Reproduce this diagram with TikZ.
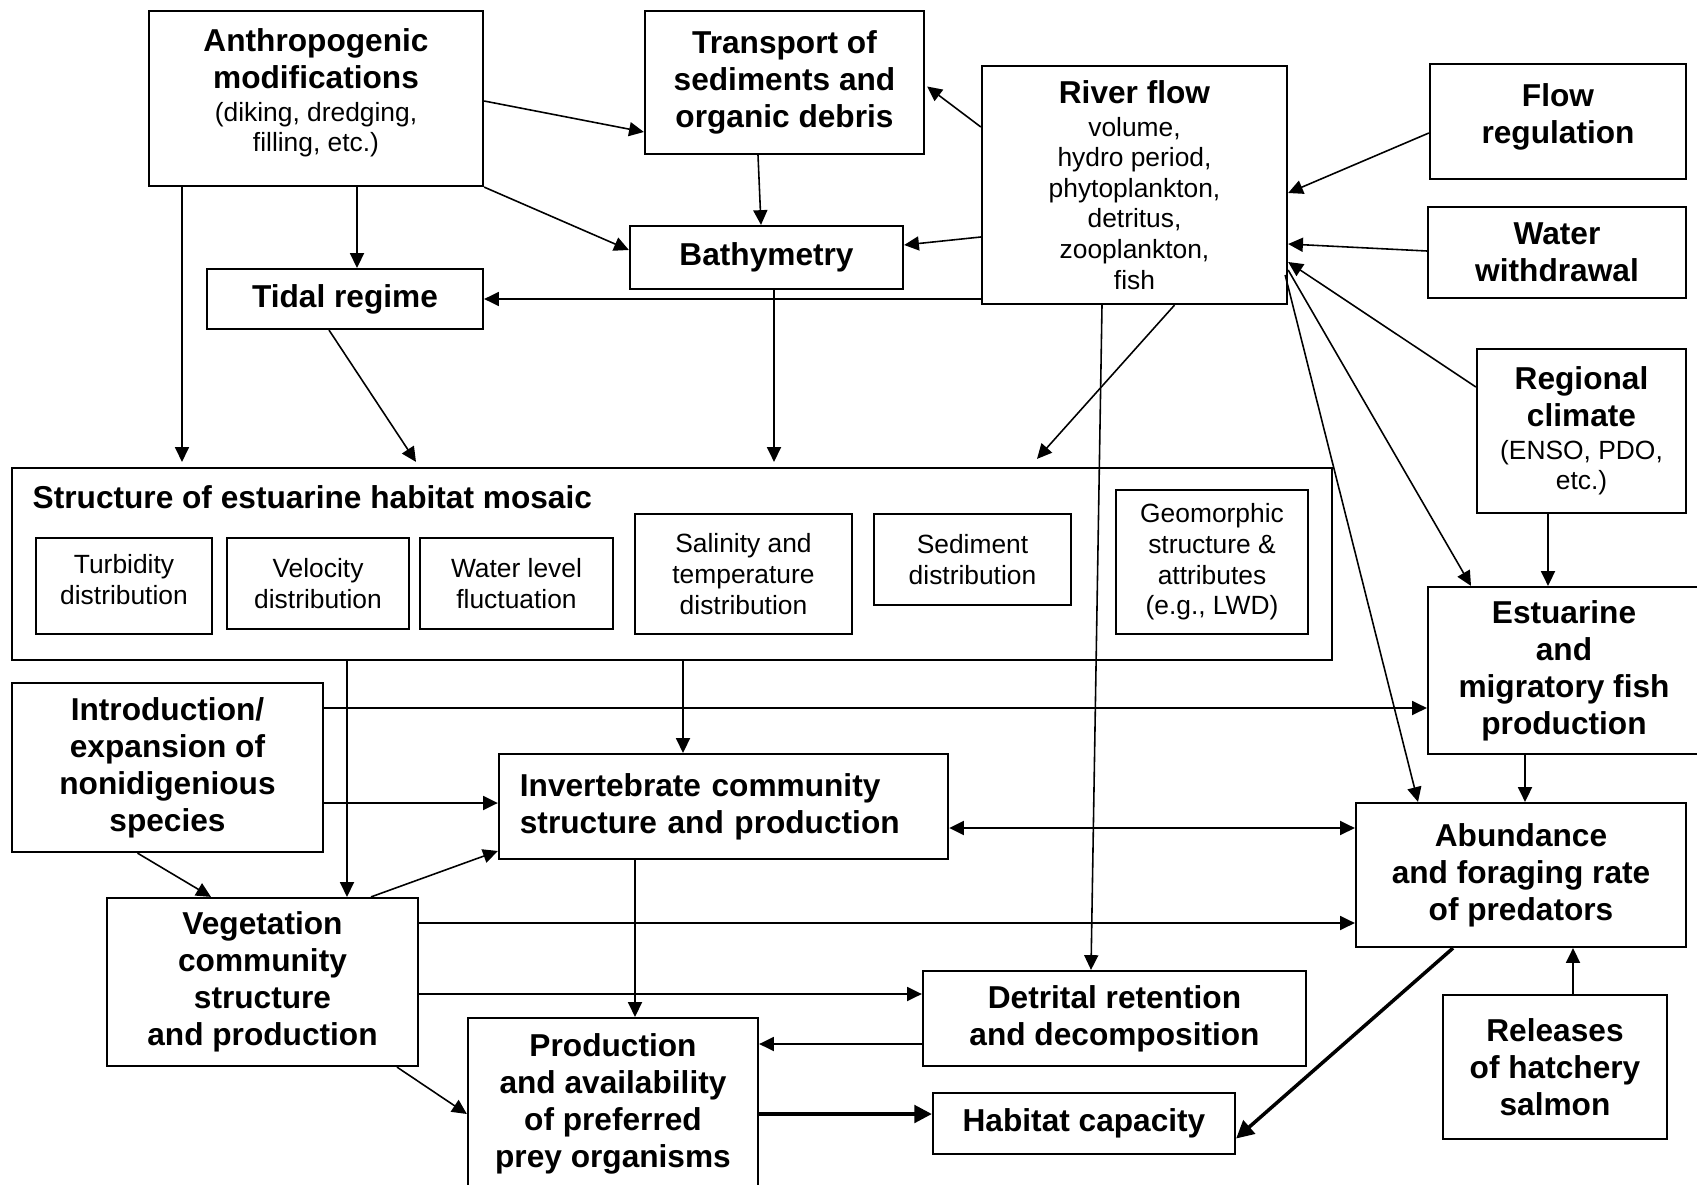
\documentclass[tikz,border=0pt]{standalone}
\usepackage{fontspec}
\setmainfont{Liberation Sans}
\usetikzlibrary{arrows.meta, calc}
\definecolor{LineBlack}{HTML}{000000}
\newcommand{\boldlabel}{\fontsize{9}{10.5}\selectfont\bfseries}
\newcommand{\plainlabel}{\fontsize{7.5}{8.7}\selectfont\mdseries}
\tikzset{
    box/.style={
        draw=LineBlack,
        line width=0.6pt,
        text=LineBlack,
        font=\boldlabel,
        align=center,
        inner sep=2pt
    },
    subbox/.style={
        draw=LineBlack,
        line width=0.6pt,
        text=LineBlack,
        font=\plainlabel,
        align=center,
        inner sep=2pt
    },
    arrow/.style={
        -{Triangle[length=4.2pt,width=4pt]},
        line width=0.45pt,
        LineBlack
    },
    twoway/.style={
        {Triangle[length=4.2pt,width=4pt]}-{Triangle[length=4.2pt,width=4pt]},
        line width=0.5pt,
        LineBlack
    },
    bigarrow/.style={
        -{Triangle[length=5pt,width=5pt]},
        line width=1pt,
        LineBlack
    }
}

\begin{document}
\begin{tikzpicture}[x=0.01cm, y=-0.01cm]
    \useasboundingbox (0,0) rectangle (1697,1185);

    % top row
    \node[box, minimum width=3.34cm, minimum height=1.75cm, text depth=4.6pt] (anthro) at (316,98.5)
        {Anthropogenic\\ modifications\\[-1.2pt] \plainlabel (diking, dredging,\\[-1.9pt] \plainlabel filling, etc.)};
    \node[box, minimum width=2.79cm, minimum height=1.43cm] (transport) at (784.5,82.5)
        {Transport of\\ sediments and\\ organic debris};
    \node[box, font=\plainlabel, minimum width=3.05cm, minimum height=2.38cm] (river) at (1134.5,185)
        {\boldlabel River flow\\[0.5pt] volume,\\ hydro period,\\ phytoplankton,\\ detritus,\\ zooplankton,\\ fish};
    \node[box, minimum width=2.56cm, minimum height=1.15cm, text depth=4.3pt] (flowreg) at (1558,121.5) {Flow\\ regulation};
    \node[box, minimum width=2.58cm, minimum height=0.91cm] (withdraw) at (1557,252.5) {Water\\ withdrawal};
    \node[box, minimum width=2.73cm, minimum height=0.63cm] (bathy) at (766.5,257.5) {Bathymetry};
    \node[box, minimum width=2.76cm, minimum height=0.60cm] (tidal) at (345,299) {Tidal regime};
    \node[box, minimum width=2.09cm, minimum height=1.64cm] (climate) at (1581.5,431)
        {Regional\\ climate\\[-1.2pt] \plainlabel (ENSO, PDO,\\[-1.9pt] \plainlabel etc.)};

    % habitat mosaic
    \node[box, minimum width=13.2cm, minimum height=1.92cm] (mosaic) at (672,564) {};
    \node[font=\boldlabel, anchor=west, inner sep=0pt] (mosaictitle) at (32,497) {Structure of estuarine habitat mosaic};
    \node[subbox, minimum width=1.76cm, minimum height=0.96cm, text depth=3.7pt] (turbidity) at (124,586) {Turbidity\\ distribution};
    \node[subbox, minimum width=1.82cm, minimum height=0.91cm] (velocity) at (318,583.5) {Velocity\\ distribution};
    \node[subbox, minimum width=1.93cm, minimum height=0.91cm] (waterlevel) at (516.5,583.5) {Water level\\ fluctuation};
    \node[subbox, minimum width=2.17cm, minimum height=1.20cm] (salinity) at (743.5,574) {Salinity and\\ temperature\\ distribution};
    \node[subbox, minimum width=1.97cm, minimum height=0.91cm] (sediment) at (972.5,559.5) {Sediment\\ distribution};
    \node[subbox, minimum width=1.92cm, minimum height=1.44cm] (geomorph) at (1212,562) {Geomorphic\\ structure \&\\ attributes\\ (e.g., LWD)};

    % lower part
    \node[box, minimum width=2.72cm, minimum height=1.67cm] (fishprod) at (1564,670.5) {Estuarine\\ and\\ migratory fish\\ production};
    \node[box, minimum width=3.11cm, minimum height=1.69cm] (intro) at (167.5,767.5) {Introduction/\\ expansion of\\ nonidigenious\\ species};
    \node[box, text width=4.07cm, inner xsep=0.21cm, minimum height=1.05cm, align=left] (invert) at (723.5,806.5)
        {Invertebrate community\\ structure and production};
    \node[box, minimum width=3.30cm, minimum height=1.44cm] (predators) at (1521,875) {Abundance\\ and foraging rate\\ of predators};
    \node[box, minimum width=3.11cm, minimum height=1.68cm] (vegetation) at (262.5,982) {Vegetation\\ community\\ structure\\ and production};
    \node[box, minimum width=3.83cm, minimum height=0.95cm] (detrital) at (1114.5,1018.5) {Detrital retention\\ and decomposition};
    \node[box, minimum width=2.90cm, minimum height=1.72cm] (production) at (613,1104) {Production\\ and availability\\ of preferred\\ prey organisms};
    \node[box, minimum width=3.02cm, minimum height=0.61cm] (habitat) at (1084,1123.5) {Habitat capacity};
    \node[box, minimum width=2.24cm, minimum height=1.44cm] (releases) at (1555,1067) {Releases\\ of hatchery\\ salmon};

    % connectors
    \draw[arrow] ($(anthro.east)+(0,2.5)$) -- ($(transport.west)+(0,49.5)$);
    \draw[arrow] (anthro.south east) -- ($(bathy.west)+(0,-7.5)$);
    \draw[arrow] ($(anthro.south)+(41,0)$) -- ($(tidal.north)+(12,0)$);
    \draw[arrow] ($(anthro.south)+(-134,0)$) -- ($(mosaic.north)+(-490,-5)$);
    \draw[arrow] ($(transport.south)+(-26.5,0)$) -- ($(bathy.north)+(-5.5,0)$);
    \draw[arrow] ($(river.west)+(0,-58)$) -- ($(transport.east)+(2,4)$);
    \draw[arrow] ($(river.west)+(0,52)$) -- ($(bathy.east)+(0,-12.5)$);
    \draw[arrow] ($(river.west)+(0,114)$) -- (tidal.east);
    \draw[arrow] ($(river.south)+(40,0)$) -- ($(mosaic.north)+(365,-8)$);
    \draw[arrow] ($(river.south)+(-32.5,0)$) -- ($(detrital.north)+(-23.5,0)$);
    \draw[arrow] ($(bathy.south)+(7.5,0)$) -- ($(mosaic.north)+(102,-5)$);
    \draw[arrow] ($(tidal.south)+(-16,0)$) -- ($(mosaic.north)+(-256,-5)$);
    \draw[arrow] ($(flowreg.west)+(0,11.5)$) -- ($(river.east)+(0,8)$);
    \draw[arrow] ($(withdraw.west)+(0,-1.5)$) -- ($(river.east)+(0,59)$);
    \draw[arrow] ($(climate.west)+(0,-44)$) -- ($(river.east)+(0,77)$);
    \draw[arrow] ($(river.east)+(0,85)$) -- ($(fishprod.north)+(-93,0)$);
    \draw[arrow] ($(river.east)+(-3,90)$) -- ($(predators.north)+(-103,0)$);
    \draw[arrow] ($(climate.south)+(-33.5,0)$) -- ($(fishprod.north)+(-16,0)$);
    \draw[arrow] ($(mosaic.south)+(11,0)$) -- ($(invert.north)+(-40.5,0)$);
    \draw[arrow] ($(mosaic.south)+(-325,0)$) -- ($(vegetation.north)+(84.5,0)$);
    \draw[arrow] ($(intro.east)+(0,-59.5)$) -- ($(fishprod.west)+(0,37.5)$);
    \draw[arrow] ($(intro.east)+(0,35.5)$) -- ($(invert.west)+(0,-3.5)$);
    \draw[arrow] ($(intro.south)+(-30,0)$) -- ($(vegetation.north)+(-51.5,0)$);
    \draw[arrow] ($(vegetation.north)+(108.5,0)$) -- ($(invert.west)+(0,44.5)$);
    \draw[twoway] ($(invert.east)+(0,21.5)$) -- ($(predators.west)+(0,-47)$);
    \draw[arrow] ($(fishprod.south)+(-39,0)$) -- ($(predators.north)+(4,0)$);
    \draw[arrow] ($(vegetation.east)+(0,-59)$) -- ($(predators.west)+(0,48)$);
    \draw[arrow] ($(vegetation.east)+(0,12)$) -- ($(detrital.west)+(0,-24.5)$);
    \draw[arrow] ($(invert.south)+(-88.5,0)$) -- ($(production.north)+(22,0)$);
    \draw[arrow] ($(detrital.west)+(0,25.5)$) -- ($(production.east)+(0,-60)$);
    \draw[arrow] ($(vegetation.south)+(134.5,0)$) -- ($(production.west)+(0,10)$);
    \draw[bigarrow] ($(production.east)+(0,10)$) -- ($(habitat.west)+(0,-9.5)$);
    \draw[bigarrow] ($(predators.south)+(-68,0)$) -- ($(habitat.east)+(0,15)$);
    \draw[arrow] ($(releases.north)+(18,0)$) -- ($(predators.south)+(52,0)$);
\end{tikzpicture}
\end{document}
